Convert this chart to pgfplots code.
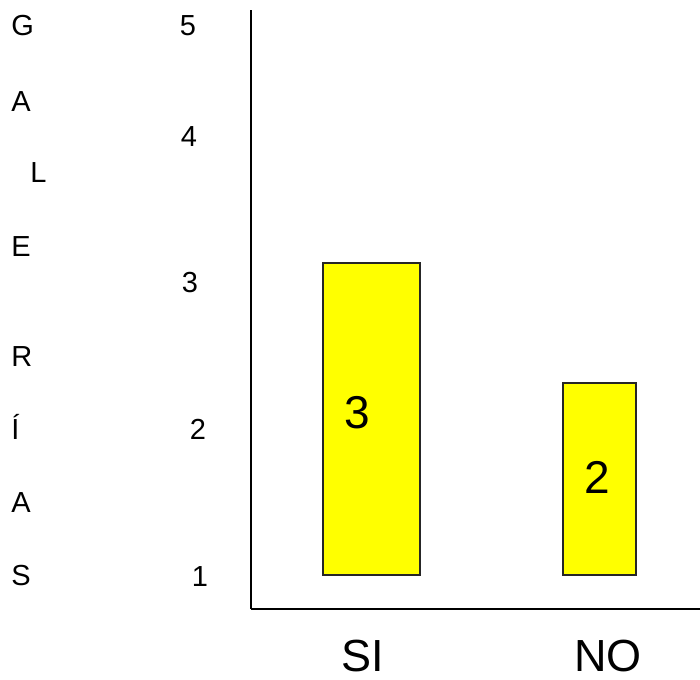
\documentclass[border=0pt]{standalone}
\usepackage{pgfplots}
\pgfplotsset{compat=1.18}
\usepackage{fontspec}
\setmainfont{Liberation Sans}
\definecolor{barfill}{RGB}{255,255,0}
\begin{document}
\begin{tikzpicture}
\begin{axis}[
  x=0.5pt, y=0.5pt,
  xmin=251, xmax=700, ymin=-34, ymax=565,
  axis x line=bottom, axis y line=left,
  axis line style={-, line width=1pt, black},
  xtick=\empty, ytick=\empty,
  clip=false,
  ybar, bar shift=0pt,
]
\addplot[ybar, bar width=48.5pt, fill=barfill, draw=black!85, line width=0.6pt] coordinates {(371.5,312)};
\addplot[ybar, bar width=36.5pt, fill=barfill, draw=black!85, line width=0.6pt] coordinates {(599.5,192)};
% bar value labels
\node[font=\fontsize{23}{23}\selectfont, anchor=base] at (axis cs:357,146) {3};
\node[font=\fontsize{23}{23}\selectfont, anchor=base] at (axis cs:597,81) {2};
% category labels
\node[font=\fontsize{22.5}{22.5}\selectfont, anchor=base, inner sep=0pt] at (axis cs:363,-96) {SI};
\node[font=\fontsize{22.5}{22.5}\selectfont, anchor=base, inner sep=0pt] at (axis cs:608,-96) {NO};
% irregular y tick labels
\node[font=\fontsize{14.5}{14.5}\selectfont, anchor=base] at (axis cs:188,539) {5};
\node[font=\fontsize{14.5}{14.5}\selectfont, anchor=base] at (axis cs:189,428) {4};
\node[font=\fontsize{14.5}{14.5}\selectfont, anchor=base] at (axis cs:190,282) {3};
\node[font=\fontsize{14.5}{14.5}\selectfont, anchor=base] at (axis cs:198,135) {2};
\node[font=\fontsize{14.5}{14.5}\selectfont, anchor=base] at (axis cs:200,-12) {1};
% vertical title letters
\node[font=\fontsize{14.5}{14.5}\selectfont, anchor=base west, inner sep=0pt] at (axis cs:11,539) {G};
\node[font=\fontsize{14.5}{14.5}\selectfont, anchor=base west, inner sep=0pt] at (axis cs:11,463) {A};
\node[font=\fontsize{14.5}{14.5}\selectfont, anchor=base west, inner sep=0pt] at (axis cs:30,392) {L};
\node[font=\fontsize{14.5}{14.5}\selectfont, anchor=base west, inner sep=0pt] at (axis cs:11,318) {E};
\node[font=\fontsize{14.5}{14.5}\selectfont, anchor=base west, inner sep=0pt] at (axis cs:11,208) {R};
\node[font=\fontsize{14.5}{14.5}\selectfont, anchor=base west, inner sep=0pt] at (axis cs:11,135) {Í};
\node[font=\fontsize{14.5}{14.5}\selectfont, anchor=base west, inner sep=0pt] at (axis cs:11,62) {A};
\node[font=\fontsize{14.5}{14.5}\selectfont, anchor=base west, inner sep=0pt] at (axis cs:11,-11) {S};
\coordinate (bl) at (axis cs:0,-104);
\coordinate (tr) at (axis cs:700,575);
\end{axis}
\pgfresetboundingbox
\path (bl) rectangle (tr);
\end{tikzpicture}
\end{document}
